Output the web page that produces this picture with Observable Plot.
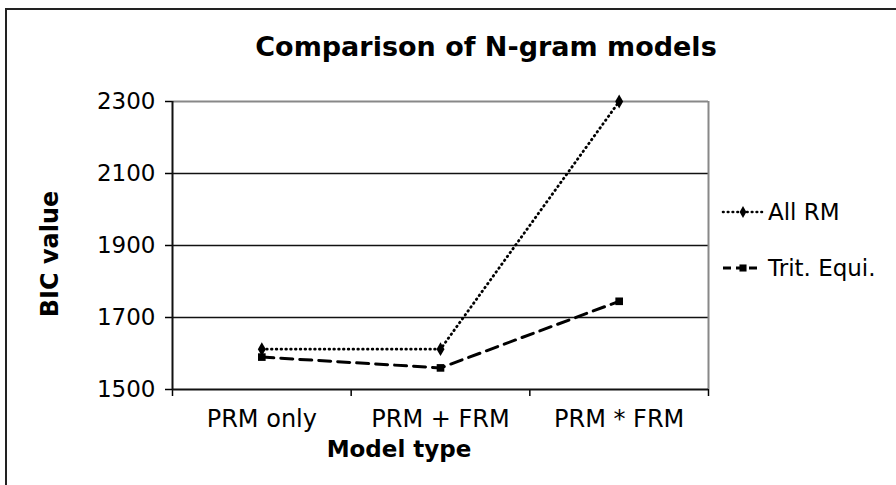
<!DOCTYPE html>
<html>
<head>
<meta charset="utf-8">
<script src="https://cdn.jsdelivr.net/npm/d3@7"></script>
<script src="https://cdn.jsdelivr.net/npm/@observablehq/plot@0.6"></script>
<style>
  html, body { margin: 0; padding: 0; background: #fff; }
  #wrap { position: relative; width: 896px; height: 485px; overflow: hidden; font-family: "DejaVu Sans", Verdana, sans-serif; background: #fff; }
  #frame { position: absolute; left: 5px; top: 8px; width: 1000px; height: 1000px; border-left: 2px solid #222; border-top: 2px solid #222; }
  .lbl { position: absolute; white-space: nowrap; color: #000; line-height: 1; }
  #chart { position: absolute; left: 0; top: 0; }
</style>
</head>
<body>
<div id="wrap">
  <div id="frame"></div>
  <div id="chart"></div>
</div>
<script>
const categories = ["PRM only", "PRM + FRM", "PRM * FRM"];
const allRM = [1612, 1612, 2300];
const tritEqui = [1590, 1560, 1745];
const yTicks = [1500, 1700, 1900, 2100, 2300];
const seriesNames = ["All RM", "Trit. Equi."];
const title = "Comparison of N-gram models";
const xTitle = "Model type";
const yTitle = "BIC value";

const rows = [];
categories.forEach((c, i) => {
  rows.push({series: seriesNames[0], i: i + 0.5, v: allRM[i]});
  rows.push({series: seriesNames[1], i: i + 0.5, v: tritEqui[i]});
});
const aRows = rows.filter(d => d.series === seriesNames[0]);
const tRows = rows.filter(d => d.series === seriesNames[1]);
const bounds = d3.range(categories.length + 1);

const font = '"DejaVu Sans", Verdana, sans-serif';

const chart = Plot.plot({
  width: 896,
  height: 485,
  marginLeft: 172,
  marginRight: 188,
  marginTop: 101,
  marginBottom: 96,
  style: {fontFamily: font, fontSize: "23px", background: "transparent", color: "#000"},
  x: {type: "linear", domain: [0, categories.length]},
  y: {domain: [1500, 2300]},
  marks: [
    Plot.ruleY(yTicks.filter(t => t > 1500 && t < 2300), {stroke: "#111", strokeWidth: 1.5}),
    Plot.ruleY([2300], {stroke: "#888", strokeWidth: 2}),
    Plot.ruleX([categories.length], {stroke: "#888", strokeWidth: 2}),
    Plot.axisY({ticks: yTicks, tickSize: 7, tickPadding: 10, strokeWidth: 1.5, label: null, fontSize: 23, tickFormat: d3.format("d")}),
    Plot.axisX({ticks: bounds, tickSize: 7, tickFormat: () => "", strokeWidth: 1.5, label: null}),
    Plot.axisX({ticks: bounds.slice(0, -1).map(b => b + 0.5), tickSize: 0, tickPadding: 20,
      tickFormat: d => categories[Math.floor(d)], label: null, fontSize: 24}),
    Plot.ruleX([0], {stroke: "#111", strokeWidth: 2}),
    Plot.ruleY([1500], {stroke: "#111", strokeWidth: 2}),
    Plot.line(aRows, {x: "i", y: "v", stroke: "#000", strokeWidth: 2.8, strokeDasharray: "0.6,4.2", strokeLinecap: "round"}),
    Plot.line(tRows, {x: "i", y: "v", stroke: "#000", strokeWidth: 3, strokeDasharray: "12,7"}),
    Plot.dot(aRows, {x: "i", y: "v", symbol: "diamond", r: 4.2, fill: "#000", stroke: "none"}),
    Plot.dot(tRows, {x: "i", y: "v", symbol: "square", r: 4.3, fill: "#000", stroke: "none"})
  ]
});
document.getElementById("chart").appendChild(chart);

const wrap = document.getElementById("wrap");
function addLabel(text, css) {
  const d = document.createElement("div");
  d.className = "lbl";
  d.textContent = text;
  Object.assign(d.style, css);
  wrap.appendChild(d);
  return d;
}
addLabel(title, {left: "486px", top: "46px", transform: "translate(-50%,-50%)", fontWeight: "bold", fontSize: "27px"});
addLabel(xTitle, {left: "399px", top: "449px", transform: "translate(-50%,-50%)", fontWeight: "bold", fontSize: "23px"});
addLabel(yTitle, {left: "50px", top: "254px", transform: "translate(-50%,-50%) rotate(-90deg)", fontWeight: "bold", fontSize: "24px"});

// legend
const legendY = [212, 268];
const dashes = ["0.6,4.2", "8,5"];
const widths = [2.6, 3];
const caps = ["round", "butt"];
const syms = [d3.symbolDiamond, d3.symbolSquare];
seriesNames.forEach((name, k) => {
  const svg = d3.create("svg").attr("width", 44).attr("height", 16)
    .style("position", "absolute").style("left", "721px").style("top", (legendY[k] - 8) + "px");
  svg.append("line").attr("x1", 2).attr("x2", k === 0 ? 42 : 36).attr("y1", 8).attr("y2", 8)
    .attr("stroke", "#000").attr("stroke-width", widths[k]).attr("stroke-dasharray", dashes[k]).attr("stroke-linecap", caps[k]);
  svg.append("path").attr("d", d3.symbol(syms[k], k === 0 ? 40 : 50)()).attr("transform", "translate(22,8)").attr("fill", "#000");
  wrap.appendChild(svg.node());
  addLabel(name, {left: "768px", top: legendY[k] + "px", transform: "translateY(-50%)", fontSize: "23px"});
});
</script>
</body>
</html>
